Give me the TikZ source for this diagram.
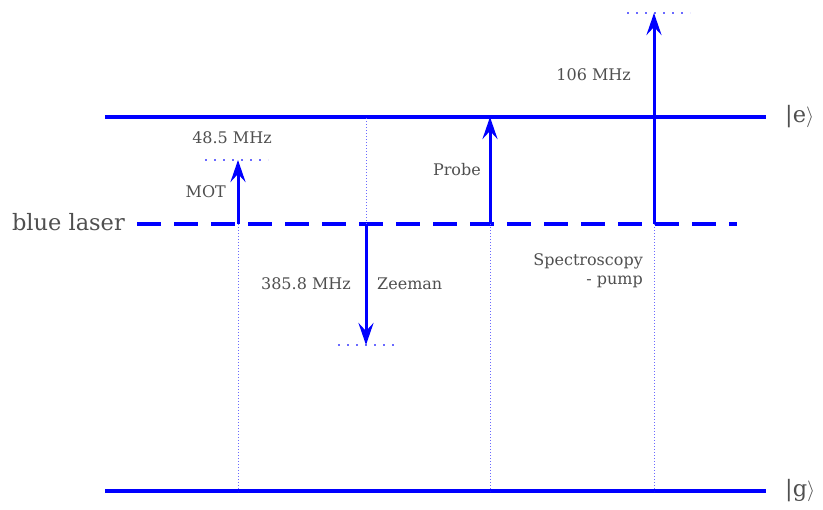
\documentclass[tikz,border=0pt]{standalone}
\usepackage{fontspec}
\setmainfont{DejaVu Serif}
\usetikzlibrary{arrows.meta,positioning}
\definecolor{txtgray}{HTML}{4F4F4F}
\definecolor{lvlblue}{HTML}{0000FF}
\definecolor{dotblue}{HTML}{6A6AFF}

\begin{document}
\begin{tikzpicture}[x=1pt, y=-1pt,
  level/.style={lvlblue, line width=3.4pt},
  laserline/.style={lvlblue, line width=3.4pt, dash pattern=on 24pt off 13pt},
  trans/.style={lvlblue, line width=3pt, -{Stealth[length=22pt, width=15pt, inset=8pt]}},
  virt/.style={dotblue, line width=2.2pt, dash pattern=on 2pt off 7pt},
  guide/.style={dotblue, line width=0.8pt, dash pattern=on 1pt off 2pt},
  lbl/.style={text=txtgray, font=\fontsize{16}{19}\selectfont, inner sep=1pt},
  biglbl/.style={text=txtgray, font=\fontsize{22.5}{26}\selectfont, inner sep=1pt}]

  \useasboundingbox (0,0) rectangle (823,510);

  % Niveles
  \coordinate (e0) at (105,117);
  \coordinate (e1) at (766,117);
  \coordinate (g0) at (105,491);
  \coordinate (g1) at (766,491);
  \coordinate (l0) at (137,224);
  \coordinate (l1) at (737,224);
  \draw[level] (e0) -- (e1);
  \draw[level] (g0) -- (g1);
  \draw[laserline] (l0) -- (l1);
  \node[biglbl, anchor=west] (ket e) at (784,117) {|e$\rangle$};
  \node[biglbl, anchor=west] (ket g) at (784,491) {|g$\rangle$};
  \node[biglbl, anchor=east] (laser) at (126,222) {blue laser};

  % Lineas guia
  \coordinate (mot) at (238,224);
  \coordinate (zee) at (366,224);
  \coordinate (prb) at (490,224);
  \coordinate (spc) at (654,224);
  \draw[guide] (mot) -- (238,491);
  \draw[guide] (zee) -- (366,117);
  \draw[guide] (prb) -- (490,491);
  \draw[guide] (spc) -- (654,491);

  % MOT
  \coordinate (mot top) at (238,160);
  \draw[virt] (205,160) -- (268,160);
  \draw[trans] (mot) -- (mot top);
  \node[lbl] (mot f) at (232,138) {48.5 MHz};
  \node[lbl, anchor=east] (mot l) at (227,192) {MOT};

  % Zeeman
  \coordinate (zee bot) at (366,345);
  \draw[virt] (338,345) -- (400,345);
  \draw[trans] (zee) -- (zee bot);
  \node[lbl, anchor=east] (zee f) at (352,284) {385.8 MHz};
  \node[lbl, anchor=west] (zee l) at (376,284) {Zeeman};

  % Probe
  \draw[trans] (prb) -- (490,117);
  \node[lbl, anchor=east] (prb l) at (482,170) {Probe};

  % Espectroscopia
  \coordinate (spc top) at (654,13);
  \draw[virt] (627,13) -- (690,13);
  \draw[trans] (spc) -- (spc top);
  \node[lbl, anchor=east] (spc f) at (632,75) {106 MHz};
  \node[lbl, anchor=north east, align=right] (spc l) at (644,252) {Spectroscopy\\- pump};

\end{tikzpicture}
\end{document}
